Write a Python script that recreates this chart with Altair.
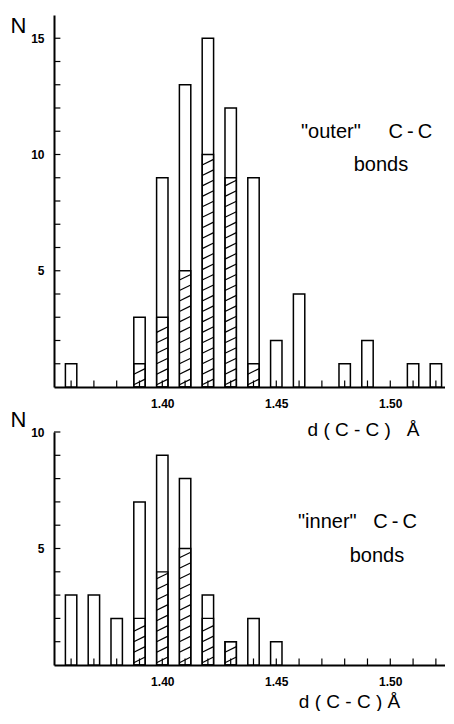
import altair as alt
import pandas as pd

# ---- data ----
bond_length = [1.36, 1.37, 1.38, 1.39, 1.40, 1.41, 1.42, 1.43, 1.44,
               1.45, 1.46, 1.47, 1.48, 1.49, 1.50, 1.51, 1.52]
outer_total = [1, 0, 0, 3, 9, 13, 15, 12, 9, 2, 4, 0, 1, 2, 0, 1, 1]
outer_hatched = [0, 0, 0, 1, 3, 5, 10, 9, 1, 0, 0, 0, 0, 0, 0, 0, 0]
inner_total = [3, 3, 2, 7, 9, 8, 3, 1, 2, 1, 0, 0, 0, 0, 0, 0, 0]
inner_hatched = [0, 0, 0, 2, 4, 5, 2, 1, 0, 0, 0, 0, 0, 0, 0, 0, 0]
x_label_values = [1.40, 1.45, 1.50]
outer_y_labels = [5, 10, 15]
inner_y_labels = [5, 10]
outer_y_ticks = list(range(1, 16))
inner_y_ticks = list(range(1, 11))

# ---- style ----
HALF = 0.0025          # half bar width in data units
SPACING = 0.45         # hatch spacing (N units)
RISE = 0.24            # hatch rise across bar
X_DOMAIN = [1.3525, 1.524]
FONT = "Liberation Sans"
W = 391
NB = "\u00a0"
TH = "\u2009"


def hatch_segments(hatched):
    rows = []
    for d, h in zip(bond_length, hatched):
        k = 0
        while 0.1 + k * SPACING + RISE <= h + 1e-9:
            y0 = 0.1 + k * SPACING
            rows.append({"x1": d - HALF, "x2": d + HALF, "y1": y0, "y2": y0 + RISE})
            k += 1
    return pd.DataFrame(rows)


def panel(total, hatched, ymax, ylabels, yticks, height, ann1, ann2,
          title_text, title_x, title_y, n_y):
    df = pd.DataFrame({"d": bond_length, "total": total, "hatched": hatched})
    xscale = alt.Scale(domain=X_DOMAIN, nice=False, zero=False)
    yscale = alt.Scale(domain=[0, ymax], nice=False)
    base = alt.Chart(df).transform_calculate(
        lo=f"datum.d - {HALF}", hi=f"datum.d + {HALF}", zero="0"
    )
    bars = base.transform_filter("datum.total > 0").mark_bar(
        fill="white", stroke="black", strokeWidth=1.5
    ).encode(
        x=alt.X("lo:Q", scale=xscale, axis=alt.Axis(
            values=x_label_values, format=".2f", ticks=False, grid=False,
            domainWidth=2, domainColor="black", labelPadding=11,
            labelFontSize=12, labelColor="black", labelFont=FONT,
            labelFontWeight="bold",
            title=title_text, titleX=title_x, titleY=title_y,
            titleBaseline="middle", titleAlign="center", titleAnchor="start",
            titleFontSize=19, titleFontWeight="normal", titleFont=FONT,
            titleColor="black")),
        x2="hi:Q",
        y=alt.Y("total:Q", scale=yscale, axis=alt.Axis(
            values=ylabels, ticks=False, grid=False, domainWidth=2,
            domainColor="black", labelPadding=10, labelFontSize=12,
            labelColor="black", labelFont=FONT, labelFontWeight="bold",
            title="N", titleAngle=0, titleX=-36, titleY=n_y,
            titleBaseline="middle", titleAlign="center", titleAnchor="start",
            titleFontSize=22, titleFontWeight="normal", titleFont=FONT,
            titleColor="black")),
        y2="zero:Q",
    )
    hbars = base.transform_filter("datum.hatched > 0").mark_bar(
        fillOpacity=0, stroke="black", strokeWidth=1.3
    ).encode(
        x="lo:Q", x2="hi:Q",
        y="hatched:Q", y2="zero:Q",
    )
    hatch = alt.Chart(hatch_segments(hatched)).mark_rule(
        stroke="black", strokeWidth=1.2
    ).encode(
        x="x1:Q", x2="x2:Q",
        y="y1:Q", y2="y2:Q",
    )
    ticks_x = alt.Chart(pd.DataFrame({"d": bond_length})).transform_calculate(
        t0="0", t1="0.28"
    ).mark_rule(stroke="black", strokeWidth=1.2).encode(
        x="d:Q", y="t0:Q", y2="t1:Q",
    )
    ticks_y = alt.Chart(pd.DataFrame({"v": yticks})).transform_calculate(
        a=f"{X_DOMAIN[0]}", b=f"{X_DOMAIN[0] + 0.0028}"
    ).mark_rule(stroke="black", strokeWidth=1.2).encode(
        y="v:Q", x="a:Q", x2="b:Q",
    )
    one = pd.DataFrame({"a": [0]})
    t1 = alt.Chart(one).mark_text(
        text=ann1[0], font=FONT, fontSize=20, color="black", align="left"
    ).encode(x=alt.value(ann1[1]), y=alt.value(ann1[2]))
    t2 = alt.Chart(one).mark_text(
        text=ann2[0], font=FONT, fontSize=20, color="black"
    ).encode(x=alt.value(ann2[1]), y=alt.value(ann2[2]))
    return alt.layer(bars, hbars, hatch, ticks_x, ticks_y, t1, t2).properties(
        width=W, height=height
    )


cc = "C" + TH + "-" + TH + "C"
outer_label = '"outer"' + NB * 5 + cc
inner_label = '"inner"' + NB * 3 + cc
title_top = "d" + NB + "(" + NB + "C" + NB + "-" + NB + "C" + NB + ")" + NB * 3 + "Å"
title_bot = "d" + NB + "(" + NB + "C" + NB + "-" + NB + "C" + NB + ")" + NB + "Å"

top = panel(outer_total, outer_hatched, 16, outer_y_labels, outer_y_ticks, 372,
            (outer_label, 247, 117), ("bonds", 327, 150),
            title_top, 309, 42, 10)
bottom = panel(inner_total, inner_hatched, 10, inner_y_labels, inner_y_ticks, 233,
               (inner_label, 244, 90), ("bonds", 323, 124),
               title_bot, 295, 36, -13)

chart = alt.vconcat(top, bottom, spacing=45, bounds="flush").properties(
    padding={"left": 2, "top": 6, "right": 0, "bottom": 0}
).configure(background="white").configure_view(strokeWidth=0)

chart.save("out.html", embed_options={"renderer": "svg", "actions": False})
